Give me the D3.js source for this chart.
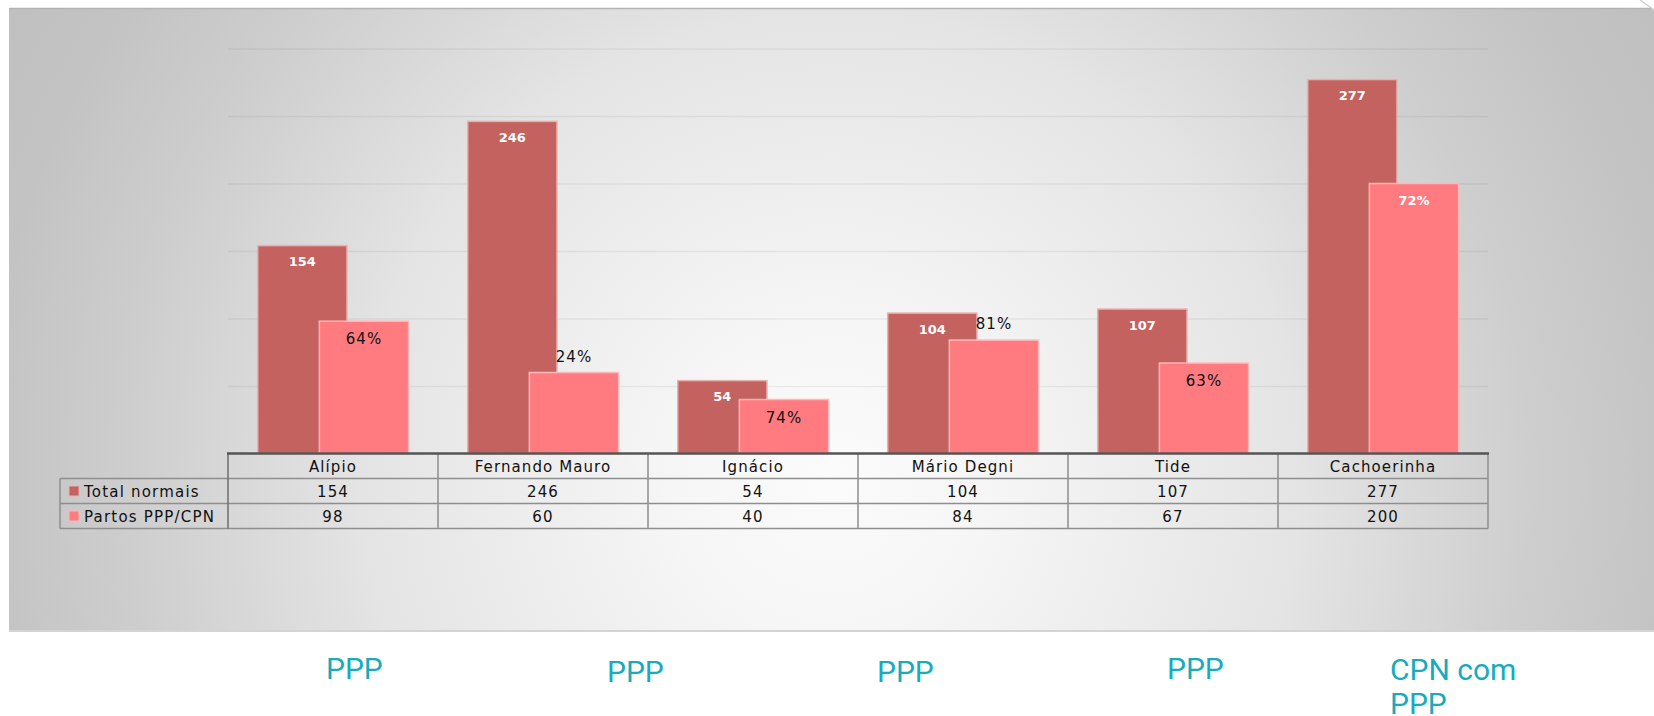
<!DOCTYPE html>
<html>
<head>
<meta charset="utf-8">
<script src="https://cdn.jsdelivr.net/npm/d3@7"></script>
<style>
  body { margin: 0; background: #fff; }
  svg { display: block; }
</style>
</head>
<body>
<svg id="chart" width="1654" height="716"></svg>
<script>
// data
const categories = ["Alípio", "Fernando Mauro", "Ignácio", "Mário Degni", "Tide", "Cachoerinha"];
const totalNormais = [154, 246, 54, 104, 107, 277];
const partosPPP = [98, 60, 40, 84, 67, 200];
const seriesNames = ["Total normais", "Partos PPP/CPN"];
const yTicks = [50, 100, 150, 200, 250, 300];
const footLabels = ["PPP", "PPP", "PPP", "PPP", "CPN com|PPP"];

// which % labels sit above their bar, and which one is white/bold
const pctOutside = ["Fernando Mauro", "Mário Degni"];
const pctWhite = ["Cachoerinha"];

const DARK = "#c4625f";
const PINK = "#ff7b80";
const TEAL = "#17abbd";
const FONT = "'DejaVu Sans', Verdana, sans-serif";

const svg = d3.select("#chart");

// panel background: soft radial gradient
const defs = svg.append("defs");
const grad = defs.append("radialGradient")
  .attr("id", "bg")
  .attr("gradientUnits", "userSpaceOnUse")
  .attr("cx", 830).attr("cy", 480).attr("r", 1000);
[[0, "#fbfbfb"], [0.15, "#f6f6f6"], [0.47, "#e4e4e4"], [0.7, "#cecece"], [0.85, "#c3c3c3"], [1, "#bebebe"]]
  .forEach(s => grad.append("stop").attr("offset", s[0]).attr("stop-color", s[1]));

svg.append("rect")
  .attr("x", 9).attr("y", 8)
  .attr("width", 1654 - 9).attr("height", 623)
  .attr("fill", "url(#bg)");
svg.append("line").attr("x1", 9).attr("x2", 1654).attr("y1", 8.5).attr("y2", 8.5)
  .attr("stroke", "#b4b4b4").attr("stroke-width", 1.5);
svg.append("line").attr("x1", 9).attr("x2", 1654).attr("y1", 631).attr("y2", 631)
  .attr("stroke", "#d4d4d4").attr("stroke-width", 2);
// little cut corner top right
svg.append("path").attr("d", "M1640,0 L1654,0 L1654,10 Z").attr("fill", "#fff");
svg.append("line").attr("x1", 1640).attr("y1", 0).attr("x2", 1654).attr("y2", 10)
  .attr("stroke", "#d0d0d0").attr("stroke-width", 1.5);

// scales
const x = d3.scaleBand().domain(categories).range([228, 1488]);
const y = d3.scaleLinear().domain([0, 300]).range([453.5, 48.5]);
const bw = x.bandwidth();
const barW = bw * 0.425;

// gridlines
svg.append("g")
  .attr("transform", `translate(${x.range()[0]},0)`)
  .call(d3.axisLeft(y).tickValues(yTicks).tickSize(-(x.range()[1] - x.range()[0])).tickFormat(""))
  .call(g => g.select(".domain").remove())
  .selectAll("line")
  .attr("stroke", "#000").attr("stroke-opacity", 0.055).attr("stroke-width", 1.5);

const rows = categories.map((c, i) => ({ cat: c, total: totalNormais[i], ppp: partosPPP[i] }));

// bars: each group draws the dark bar first, then the pink one over it
const groups = svg.append("g").selectAll("g")
  .data(rows)
  .join("g");

groups.append("rect")
  .attr("x", d => x(d.cat) + bw * 0.1415)
  .attr("y", d => y(d.total))
  .attr("width", barW)
  .attr("height", d => y(0) - y(d.total))
  .attr("fill", DARK)
  .attr("stroke", "#eab0ae").attr("stroke-width", 1.5);

groups.append("rect")
  .attr("x", d => x(d.cat) + bw * 0.435)
  .attr("y", d => y(d.ppp))
  .attr("width", barW)
  .attr("height", d => y(0) - y(d.ppp))
  .attr("fill", PINK)
  .attr("stroke", "#ffb8ba").attr("stroke-width", 1.5);

// value labels on dark bars
svg.append("g").selectAll("text")
  .data(rows)
  .join("text")
  .attr("x", d => x(d.cat) + bw * 0.1415 + barW / 2)
  .attr("y", d => y(d.total) + 20.5)
  .attr("text-anchor", "middle")
  .attr("font-family", FONT).attr("font-size", 13).attr("font-weight", "bold")
  .attr("fill", "#fff")
  .text(d => d.total);

// percentage labels on pink bars
svg.append("g").selectAll("text")
  .data(rows)
  .join("text")
  .attr("x", d => x(d.cat) + bw * 0.435 + barW / 2)
  .attr("y", d => pctOutside.includes(d.cat) ? y(d.ppp) - 11 : y(d.ppp) + (pctWhite.includes(d.cat) ? 21 : 23))
  .attr("text-anchor", "middle")
  .attr("font-family", FONT)
  .attr("font-size", d => pctWhite.includes(d.cat) ? 13 : 15)
  .attr("font-weight", d => pctWhite.includes(d.cat) ? "bold" : "normal")
  .attr("letter-spacing", d => pctWhite.includes(d.cat) ? 0 : 1)
  .attr("fill", d => pctWhite.includes(d.cat) ? "#fff" : "#111")
  .text(d => Math.round(d.ppp / d.total * 100) + "%");

// data table under the plot
const tableTop = y(0);
const rowH = 25;
const legendLeft = 60;
const tableRight = x.range()[1];
const table = svg.append("g");

// grid lines of the table
[tableTop + rowH, tableTop + 2 * rowH, tableTop + 3 * rowH].forEach(yy => {
  table.append("line")
    .attr("x1", legendLeft).attr("x2", tableRight)
    .attr("y1", yy).attr("y2", yy)
    .attr("stroke", "#8e8e8e").attr("stroke-width", 1.5);
});
categories.concat([null]).forEach(c => {
  const xx = c === null ? tableRight : x(c);
  table.append("line")
    .attr("x1", xx).attr("x2", xx)
    .attr("y1", tableTop).attr("y2", tableTop + 3 * rowH)
    .attr("stroke", c === categories[0] ? "#6e6e6e" : "#8e8e8e").attr("stroke-width", 1.5);
});
table.append("line")
  .attr("x1", legendLeft).attr("x2", legendLeft)
  .attr("y1", tableTop + rowH).attr("y2", tableTop + 3 * rowH)
  .attr("stroke", "#8e8e8e").attr("stroke-width", 1.5);
table.append("line")
  .attr("x1", x.range()[0] - 1).attr("x2", tableRight + 1)
  .attr("y1", tableTop).attr("y2", tableTop)
  .attr("stroke", "#555").attr("stroke-width", 2.5);

// header row: category names
table.append("g").selectAll("text")
  .data(categories)
  .join("text")
  .attr("x", d => x(d) + bw / 2)
  .attr("y", tableTop + rowH / 2 + 5.5)
  .attr("text-anchor", "middle")
  .attr("font-family", FONT).attr("font-size", 15).attr("letter-spacing", 1.1)
  .attr("fill", "#111")
  .text(d => d);

// value rows
[totalNormais, partosPPP].forEach((vals, r) => {
  const cy = tableTop + rowH * (r + 1) + rowH / 2;
  table.append("g").selectAll("text")
    .data(vals)
    .join("text")
    .attr("x", (d, i) => x(categories[i]) + bw / 2)
    .attr("y", cy + 5.5)
    .attr("text-anchor", "middle")
    .attr("font-family", FONT).attr("font-size", 15).attr("letter-spacing", 1.1)
    .attr("fill", "#111")
    .text(d => d);
  table.append("rect")
    .attr("x", 69).attr("y", cy - 5)
    .attr("width", 10).attr("height", 10)
    .attr("fill", r === 0 ? DARK : PINK)
    .attr("stroke", r === 0 ? "#eab0ae" : "#ffb8ba").attr("stroke-width", 1);
  table.append("text")
    .attr("x", 84).attr("y", cy + 5.5)
    .attr("font-family", FONT).attr("font-size", 15).attr("letter-spacing", 1.2)
    .attr("fill", "#111")
    .text(seriesNames[r]);
});

// teal notes under the slide panel
const footX = [326, 607, 877, 1167, 1390];
const footY = [679, 681.5, 682, 679, 680];
svg.append("g").selectAll("text")
  .data(footLabels)
  .join("text")
  .attr("x", (d, i) => footX[i])
  .attr("y", (d, i) => footY[i])
  .attr("font-family", "Roboto, 'Liberation Sans', sans-serif")
  .attr("font-size", 30)
  .attr("fill", TEAL)
  .selectAll("tspan")
  .data(d => d.split("|"))
  .join("tspan")
  .attr("x", function () { return this.parentNode.getAttribute("x"); })
  .attr("dy", (d, i) => i === 0 ? 0 : 34)
  .text(d => d);
</script>
</body>
</html>
